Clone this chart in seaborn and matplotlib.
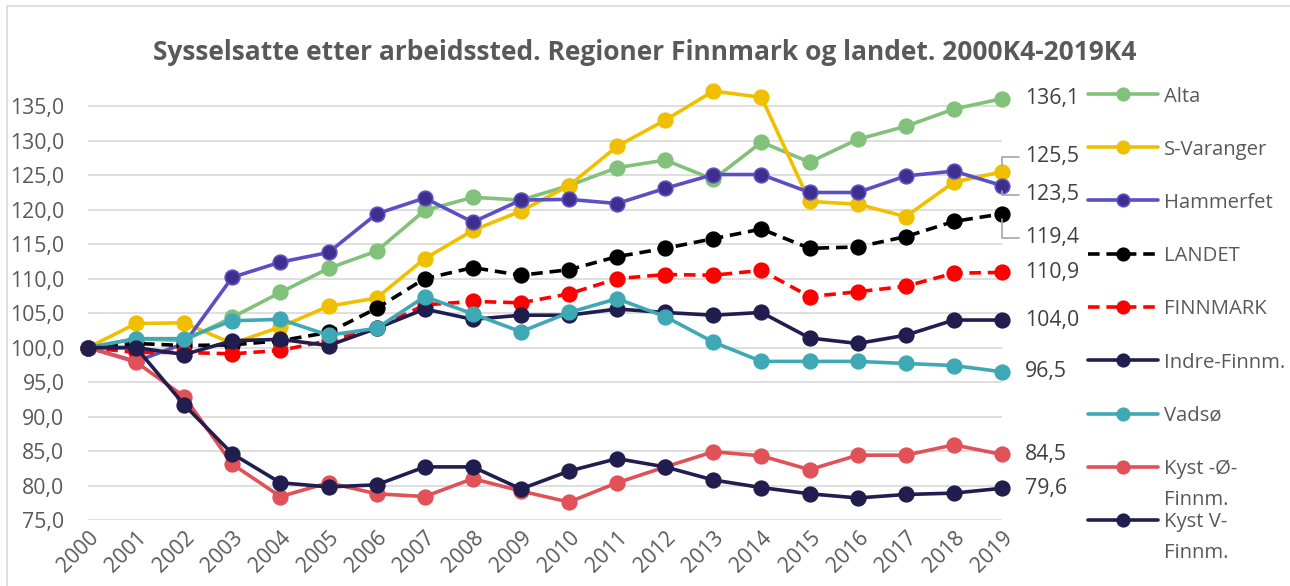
import seaborn as sns
import matplotlib.pyplot as plt
from matplotlib.lines import Line2D
from matplotlib.patches import Rectangle
import pandas as pd

years = list(range(2000, 2020))

alta = [100.0, 101.3, 101.0, 104.4, 108.0, 111.5, 114.0, 119.9, 121.8, 121.4,
        123.5, 126.1, 127.2, 124.4, 129.8, 126.9, 130.2, 132.1, 134.6, 136.1]
s_varanger = [100.0, 103.5, 103.6, 100.6, 103.0, 106.0, 107.2, 112.9, 117.0, 119.8,
              123.5, 129.2, 133.0, 137.2, 136.3, 121.2, 120.8, 119.0, 124.0, 125.5]
hammerfet = [100.0, 98.0, 100.6, 110.2, 112.4, 113.8, 119.4, 121.7, 118.2, 121.4,
             121.5, 120.9, 123.1, 125.1, 125.1, 122.5, 122.5, 124.9, 125.6, 123.5]
landet = [100.0, 100.6, 100.3, 100.4, 101.0, 102.2, 105.7, 110.0, 111.6, 110.5,
          111.3, 113.2, 114.4, 115.8, 117.2, 114.4, 114.6, 116.1, 118.3, 119.4]
finnmark = [100.0, 99.3, 99.3, 99.1, 99.6, 101.0, 102.8, 106.2, 106.7, 106.5,
            107.8, 110.0, 110.6, 110.5, 111.2, 107.4, 108.1, 108.9, 110.8, 110.9]
indre = [100.0, 100.0, 99.0, 101.0, 101.2, 100.3, 102.8, 105.6, 104.1, 104.7,
         104.7, 105.6, 105.1, 104.7, 105.1, 101.4, 100.6, 101.8, 104.0, 104.0]
vadso = [100.0, 101.3, 101.3, 103.9, 104.1, 101.8, 102.8, 107.4, 104.9, 102.3,
         105.1, 107.1, 104.5, 100.8, 98.0, 98.0, 98.0, 97.7, 97.4, 96.5]
kyst_o = [100.0, 97.9, 92.9, 83.1, 78.4, 80.4, 78.8, 78.4, 81.0, 79.2,
          77.6, 80.4, 82.7, 84.9, 84.3, 82.3, 84.4, 84.4, 85.9, 84.5]
kyst_v = [100.0, 100.0, 91.7, 84.6, 80.4, 79.8, 80.1, 82.7, 82.7, 79.5,
          82.1, 83.9, 82.7, 80.8, 79.7, 78.8, 78.2, 78.7, 78.9, 79.6]

names = ['Alta', 'S-Varanger', 'Hammerfet', 'LANDET', 'FINNMARK',
         'Indre-Finnm.', 'Vadsø', 'Kyst -Ø-\nFinnm.', 'Kyst V-\nFinnm.']
series = [alta, s_varanger, hammerfet, landet, finnmark, indre, vadso, kyst_o, kyst_v]
line_colors = ['#82C17A', '#F0C000', '#5B4FC4', '#000000', '#FF0000',
               '#211D4E', '#3EA9B4', '#E05257', '#211D4E']
marker_colors = ['#82C17A', '#F0C000', '#3E2F8F', '#000000', '#FF0000',
                 '#211D4E', '#3EA9B4', '#E05257', '#211D4E']
dashed = [False, False, False, True, True, False, False, False, False]

# label offsets (pixels) for the end-value labels
label_dy = [0, 15, -9, -24, 0, 0, 0, 0, 0]
leader = [False, True, True, True, False, False, False, False, False]

sns.set_style('white')
plt.rcParams['font.family'] = ['Open Sans', 'DejaVu Sans']

FS = 15.3

fig = plt.figure(figsize=(12.9, 5.86), dpi=100)
ax = fig.add_axes([88 / 1290, 1 - 520 / 586, 914 / 1290, (520 - 85.6) / 586])

dash_style = (0, (3.2, 1.9))
for name, vals, lc, mc, d in zip(names, series, line_colors, marker_colors, dashed):
    df = pd.DataFrame({'year': years, 'value': vals})
    sns.lineplot(data=df, x='year', y='value', ax=ax, color=lc, linewidth=2.6,
                 marker='o', markersize=10.5, markerfacecolor=mc,
                 markeredgecolor=lc, markeredgewidth=1.2, legend=False,
                 clip_on=False)
    if d:
        ax.lines[-1].set_linestyle(dash_style)

ax.set_xlim(2000, 2019)
ax.set_ylim(75, 138)
ax.set_yticks(range(75, 136, 5))
ax.set_yticklabels([f'{v:.1f}'.replace('.', ',') for v in range(75, 136, 5)])
ax.set_xticks(years)
ax.set_xticklabels([str(y) for y in years], rotation=45, ha='right', va='top',
                   rotation_mode='anchor')
ax.tick_params(axis='y', labelsize=FS, labelcolor='#595959', length=0, pad=17)
ax.tick_params(axis='x', labelsize=FS, labelcolor='#595959', length=0, pad=5)
ax.set_xlabel('')
ax.set_ylabel('')
ax.grid(axis='y', color='#D9D9D9', linewidth=1.2)
ax.grid(axis='x', visible=False)
ax.set_axisbelow(True)
for s in ax.spines.values():
    s.set_visible(False)

# end value labels
for vals, dy, ld in zip(series, label_dy, leader):
    txt = f'{vals[-1]:.1f}'.replace('.', ',')
    kw = {}
    if ld:
        kw['arrowprops'] = dict(arrowstyle='-', color='#A6A6A6', lw=1.2,
                                connectionstyle='angle,angleA=0,angleB=90,rad=0',
                                relpos=(0, 0.5), shrinkA=2, shrinkB=4)
    ax.annotate(txt, xy=(years[-1], vals[-1]), xytext=(23, dy),
                textcoords='offset pixels', ha='left', va='center',
                fontsize=FS, color='#404040', annotation_clip=False, **kw)

# legend drawn as fixed slots (Excel style, handle beside first text line)
top = 1 - 94 / 586
step = 53.25 / 586
x0, x1, xm, xt = 1088 / 1290, 1158 / 1290, 1123 / 1290, 1164 / 1290
for i, (name, lc, mc, d) in enumerate(zip(names, line_colors, marker_colors, dashed)):
    yy = top - i * step
    ln = Line2D([x0, x1], [yy, yy], transform=fig.transFigure, color=lc,
                linewidth=2.6, linestyle=dash_style if d else '-')
    mk = Line2D([xm], [yy], transform=fig.transFigure, marker='o', markersize=9,
                markerfacecolor=mc, markeredgecolor=lc, markeredgewidth=1.2,
                linestyle='none')
    fig.add_artist(ln)
    fig.add_artist(mk)
    for k, part in enumerate(name.split('\n')):
        fig.text(xt, yy - (7.5 + 31 * k) / 586, part, ha='left', va='baseline',
                 fontsize=14.6, color='#595959')

fig.text(0.5, 1 - 52 / 586,
         'Sysselsatte etter arbeidssted. Regioner Finnmark og landet. 2000K4-2019K4',
         ha='center', va='center', fontsize=19, fontweight='bold', color='#595959')

fig.add_artist(Rectangle((7 / 1290, -0.01), 1.0, 1.0, transform=fig.transFigure,
                         fill=False, edgecolor='#D9D9D9', linewidth=1.2))

fig.savefig('out.png', dpi=100)
